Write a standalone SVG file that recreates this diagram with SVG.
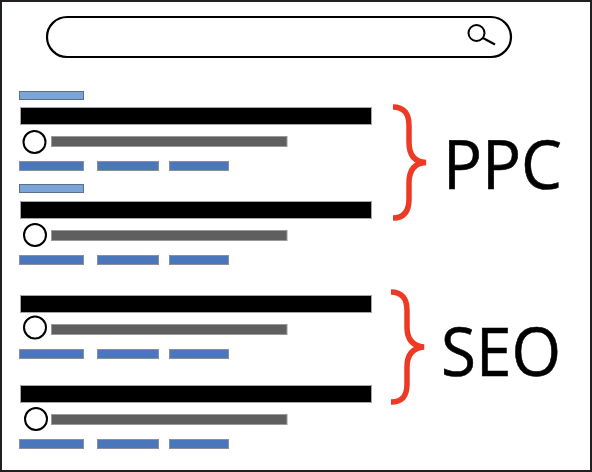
<svg xmlns="http://www.w3.org/2000/svg" width="592" height="472" viewBox="0 0 592 472">
<style>
.frame{fill:#fff;stroke:#231f20;stroke-width:2}
.search{fill:#fff;stroke:#000;stroke-width:2.2}
.glass{fill:none;stroke:#000;stroke-width:2}
.ad{fill:#7ba4d8;stroke:#5b6f88;stroke-width:1}
.title{fill:#000;stroke:#a6a6a6;stroke-width:1}
.url{fill:#5f5f5f;stroke:#9a9a9a;stroke-width:1}
.link{fill:#4a76bb;stroke:#8a8f98;stroke-width:1}
.dot{fill:#fff;stroke:#000;stroke-width:2}
.brace{fill:none;stroke:#ee3a24;stroke-width:5.500}
.label{font-family:"Open Sans","Noto Sans",sans-serif;fill:#000;stroke:#000;stroke-width:0.600;font-size:68px}
</style>
<defs>
<g id="result">
<rect class="title" x="20.500" y="0.500" width="351" height="17"/>
<rect class="url" x="51.500" y="29.500" width="235.500" height="10"/>
<rect class="link" x="19.500" y="54.500" width="64" height="9"/>
<rect class="link" x="97.500" y="54.500" width="61" height="9"/>
<rect class="link" x="169.500" y="54.500" width="59" height="9"/>
</g>
</defs>
<rect class="frame" x="1" y="1" width="590" height="470"/>
<g id="search-bar">
<rect class="search" x="47" y="17" width="464" height="40" rx="20" ry="20"/>
<circle class="glass" cx="476.500" cy="33" r="8"/>
<path class="glass" d="M483 38L495 44.500"/>
</g>
<g id="ppc-result-1">
<rect class="ad" x="19.500" y="91.500" width="64" height="8"/>
<use href="#result" y="107"/>
<circle class="dot" cx="34.500" cy="142" r="11"/>
</g>
<g id="ppc-result-2">
<rect class="ad" x="19.500" y="184.500" width="64" height="8"/>
<use href="#result" y="201"/>
<circle class="dot" cx="35" cy="235" r="11"/>
</g>
<g id="seo-result-1">
<use href="#result" y="295"/>
<circle class="dot" cx="35" cy="327.500" r="11"/>
</g>
<g id="seo-result-2">
<use href="#result" y="385"/>
<circle class="dot" cx="36" cy="419" r="11"/>
</g>
<g id="ppc-group">
<path class="brace" d="M393 107C404 107 409 114 409 125L409 142C409 154 414 162 426 162.500C414 163 409 171 409 183L409 199C409 211 404 218 393 218"/>
<text class="label" x="443" y="189" textLength="119" lengthAdjust="spacingAndGlyphs">PPC</text>
</g>
<g id="seo-group">
<path class="brace" d="M391 292C402 292 407 299 407 310L407 327C407 339 412 346 424 347C412 348 407 355 407 367L407 384C407 396 402 402 391 402"/>
<text class="label" x="441" y="376" textLength="120" lengthAdjust="spacingAndGlyphs">SEO</text>
</g>
</svg>
